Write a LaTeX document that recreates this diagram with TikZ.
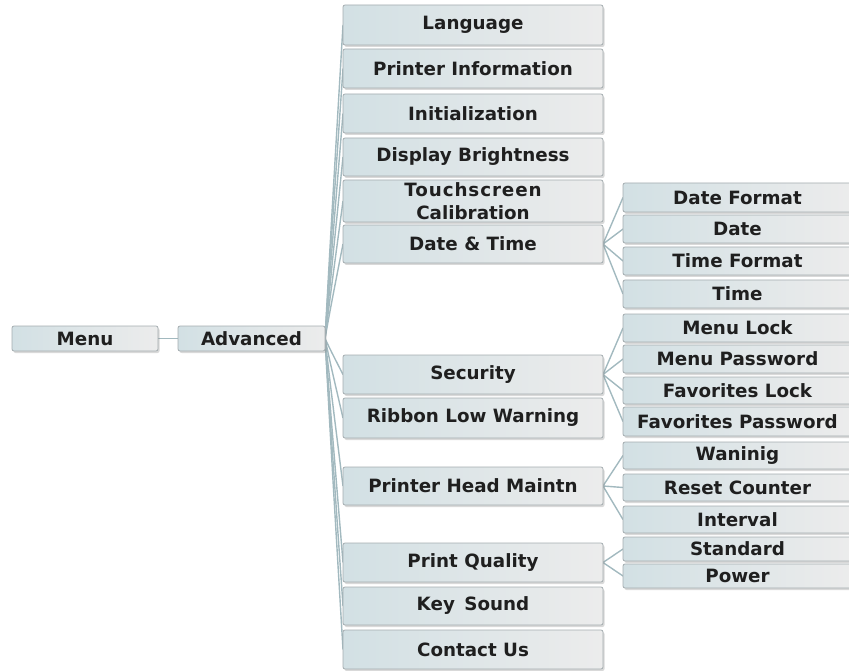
\documentclass[tikz,border=0pt]{standalone}
\usepackage{fontspec}
\setmainfont{DejaVu Sans}
\usetikzlibrary{shadows}
\definecolor{boxL}{HTML}{D2E0E4}
\definecolor{boxR}{HTML}{ECECEC}
\definecolor{boxD}{HTML}{A4ACAF}
\definecolor{lnkc}{HTML}{A2B9BF}
\tikzset{
 box/.style={draw=boxD, line width=0.8pt, rounded corners=2pt, left color=boxL, right color=boxR,
   font=\bfseries\fontsize{18.3}{23}\selectfont, text=black!88, inner sep=0pt, align=center,
   drop shadow={shadow xshift=1.5pt, shadow yshift=-2pt, opacity=0.3, fill=gray}},
 lnk/.style={draw=lnkc, line width=1.4pt},
}
\newcommand\bx[6]{\node[box,minimum width={#4-#2},minimum height={#5-#3}] (#1) at ({(#2+#4)/2},{(#3+#5)/2}) {#6};}
\begin{document}
\begin{tikzpicture}[x=1pt,y=-1pt]
\useasboundingbox (0,0) rectangle (849,671);
% connectors
\coordinate (ae) at (325,338.5);
\coordinate (me) at (158,338.5);
\coordinate (aw) at (178,338.5);
\foreach \yy in {25,68.5,113.5,157,201,244,374.5,418,486,562.5,606,649.5}
  {\draw[lnk] (ae) .. controls (331,{338.5+0.35*(\yy-338.5)}) .. (343,\yy);}
\draw[lnk] (me) -- (aw);
\foreach \yy in {197.5,229,261,294}{\draw[lnk] (603,244) -- (623,\yy);}
\foreach \yy in {328,359,390.5,421.5}{\draw[lnk] (603,374.5) -- (623,\yy);}
\foreach \yy in {455.5,487.5,519.5}{\draw[lnk] (603,486) -- (623,\yy);}
\foreach \yy in {549,576}{\draw[lnk] (603,562.5) -- (623,\yy);}
% level 1
\bx{menu}{12}{326}{158}{351}{Menu}
\bx{adv}{178}{326}{325}{351}{Advanced}
% level 2
\bx{lang}{343}{5}{603}{45}{Language}
\bx{pinfo}{343}{49}{603}{88}{Printer Information}
\bx{init}{343}{94}{603}{133}{Initialization}
\bx{disp}{343}{138}{603}{176}{Display Brightness}
\bx{touch}{343}{180}{603}{222}{\addfontfeature{LetterSpace=5}Touchscreen\\Calibration}
\bx{dt}{343}{225}{603}{263}{Date \& Time}
\bx{sec}{343}{355}{603}{394}{Security}
\bx{rib}{343}{398}{603}{438}{Ribbon Low Warning}
\bx{head}{343}{467}{603}{505}{Printer Head Maintn}
\bx{pq}{343}{543}{603}{582}{Print Quality}
\bx{key}{343}{587}{603}{625}{Key\ \,Sound}
\bx{cont}{343}{630}{603}{669}{Contact Us}
% level 3
\bx{df}{623}{183}{852}{212}{Date Format}
\bx{date}{623}{215}{852}{243}{Date}
\bx{tf}{623}{247}{852}{275}{Time Format}
\bx{time}{623}{280}{852}{308}{Time}
\bx{ml}{623}{314}{852}{342}{Menu Lock}
\bx{mp}{623}{345}{852}{373}{Menu Password}
\bx{fl}{623}{377}{852}{404}{Favorites Lock}
\bx{fp}{623}{407}{852}{436}{Favorites Password}
\bx{wan}{623}{442}{852}{469}{Waninig}
\bx{rc}{623}{474}{852}{501}{Reset Counter}
\bx{intv}{623}{506}{852}{533}{Interval}
\bx{pow}{623}{564}{852}{588}{Power}
\bx{std}{623}{537}{852}{561}{Standard}
\end{tikzpicture}
\end{document}
